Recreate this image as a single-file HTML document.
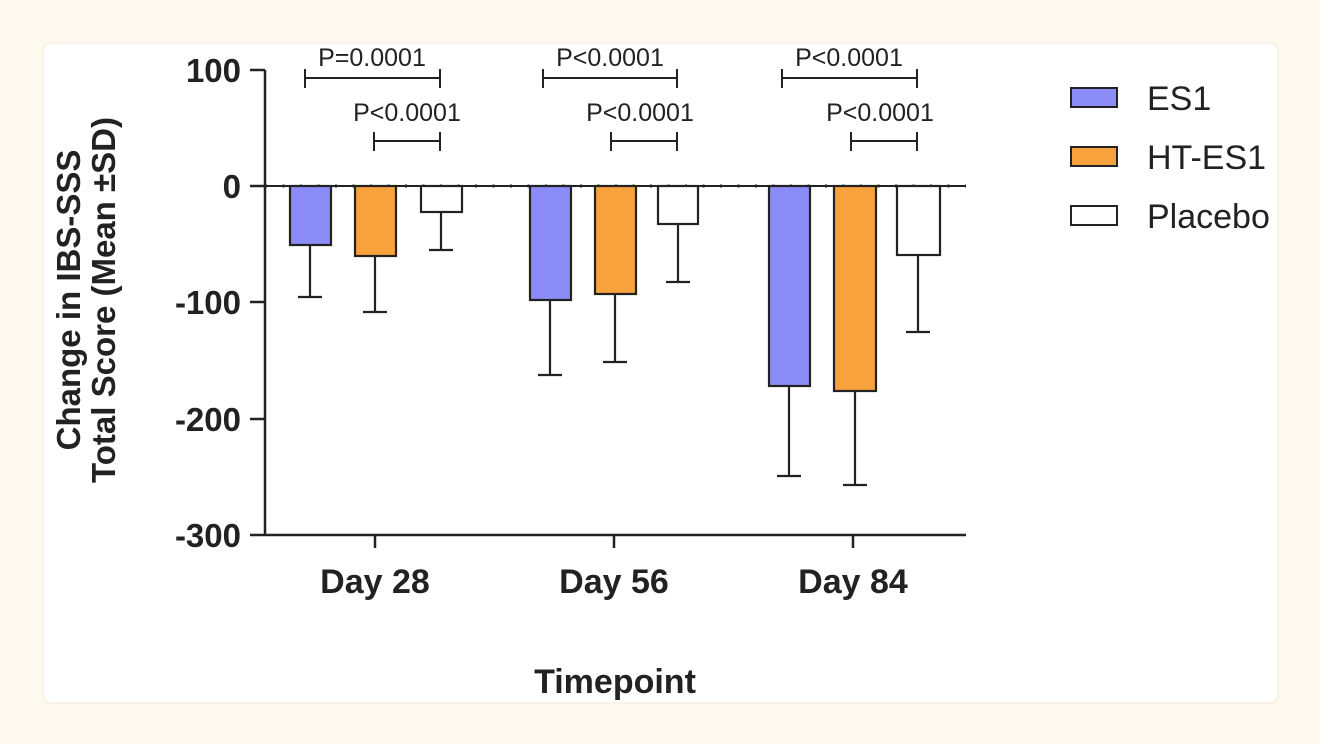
<!DOCTYPE html>
<html><head><meta charset="utf-8"><style>
html,body{margin:0;padding:0;background:#fdf9ee;}
svg{display:block;font-family:"Liberation Sans",Arial,sans-serif;}
</style></head><body>
<svg width="1320" height="744" viewBox="0 0 1320 744">
<rect x="0" y="0" width="1320" height="744" fill="#fdf9ee"/>
<rect x="43" y="43" width="1235" height="660" rx="8" fill="#fff" stroke="#f3eadb"/>
<g stroke="#222" stroke-width="2.5" fill="none">
<line x1="265" y1="70" x2="265" y2="535"/>
<line x1="250" y1="535" x2="966" y2="535"/>
<line x1="250" y1="70" x2="265" y2="70"/>
<line x1="250" y1="186" x2="265" y2="186"/>
<line x1="250" y1="302" x2="265" y2="302"/>
<line x1="250" y1="419" x2="265" y2="419"/>
<line x1="375" y1="535" x2="375" y2="548"/>
<line x1="614" y1="535" x2="614" y2="548"/>
<line x1="853" y1="535" x2="853" y2="548"/>
</g>
<line x1="265" y1="186" x2="966" y2="186" stroke="#222" stroke-width="2"/>
<line x1="265" y1="186" x2="966" y2="186" stroke="#222" stroke-width="3" stroke-dasharray="2 15.5"/>
<g stroke="#222" stroke-width="2.2">
<line x1="310" y1="245" x2="310" y2="297"/><line x1="298" y1="297" x2="322" y2="297"/>
<line x1="375" y1="256" x2="375" y2="312"/><line x1="363" y1="312" x2="387" y2="312"/>
<line x1="441" y1="212" x2="441" y2="250"/><line x1="429" y1="250" x2="453" y2="250"/>
<line x1="550" y1="300" x2="550" y2="375"/><line x1="538" y1="375" x2="562" y2="375"/>
<line x1="615" y1="294" x2="615" y2="362"/><line x1="603" y1="362" x2="627" y2="362"/>
<line x1="678" y1="224" x2="678" y2="282"/><line x1="666" y1="282" x2="690" y2="282"/>
<line x1="789" y1="386" x2="789" y2="476"/><line x1="777" y1="476" x2="801" y2="476"/>
<line x1="855" y1="391" x2="855" y2="485"/><line x1="843" y1="485" x2="867" y2="485"/>
<line x1="918" y1="255" x2="918" y2="332"/><line x1="906" y1="332" x2="930" y2="332"/>
</g>
<g stroke="#222" stroke-width="2.2">
<rect x="290" y="186" width="41" height="59" fill="#8c8cf8"/>
<rect x="355" y="186" width="41" height="70" fill="#f8a23e"/>
<rect x="421" y="186" width="41" height="26" fill="#fff"/>
<rect x="530" y="186" width="41" height="114" fill="#8c8cf8"/>
<rect x="595" y="186" width="41" height="108" fill="#f8a23e"/>
<rect x="658" y="186" width="40" height="38" fill="#fff"/>
<rect x="769" y="186" width="41" height="200" fill="#8c8cf8"/>
<rect x="834" y="186" width="42" height="205" fill="#f8a23e"/>
<rect x="897" y="186" width="43" height="69" fill="#fff"/>
</g>
<g stroke="#222" stroke-width="2" fill="none">
<path d="M305 69V88M305 78H440M440 69V88"/>
<path d="M374 132V151M374 141H440M440 132V151"/>
<path d="M543 69V88M543 78H677M677 69V88"/>
<path d="M611 132V151M611 141H677M677 132V151"/>
<path d="M782 69V88M782 78H917M917 69V88"/>
<path d="M851 132V151M851 141H917M917 132V151"/>
</g>
<g font-size="25" fill="#222" text-anchor="middle">
<text x="372" y="66">P=0.0001</text>
<text x="407" y="121">P&lt;0.0001</text>
<text x="610" y="66">P&lt;0.0001</text>
<text x="640" y="121">P&lt;0.0001</text>
<text x="849" y="66">P&lt;0.0001</text>
<text x="880" y="121">P&lt;0.0001</text>
</g>
<g font-size="33" font-weight="bold" fill="#222" text-anchor="end">
<text x="241" y="82">100</text>
<text x="241" y="198">0</text>
<text x="241" y="314">-100</text>
<text x="241" y="431">-200</text>
<text x="241" y="547">-300</text>
</g>
<g font-size="34" font-weight="bold" fill="#222" text-anchor="middle">
<text x="375" y="593">Day 28</text>
<text x="614" y="593">Day 56</text>
<text x="853" y="593">Day 84</text>
<text x="615" y="693" font-size="34">Timepoint</text>
<text transform="translate(80,300) rotate(-90)" font-size="33">Change in IBS-SSS</text>
<text transform="translate(115,300) rotate(-90)" font-size="33">Total Score (Mean ±SD)</text>
</g>
<g stroke="#222" stroke-width="2">
<rect x="1071" y="88" width="46" height="19" fill="#8c8cf8"/>
<rect x="1071" y="147" width="46" height="19" fill="#f8a23e"/>
<rect x="1071" y="206" width="46" height="19" fill="#fff"/>
</g>
<g font-size="34" fill="#222">
<text x="1147" y="110">ES1</text>
<text x="1147" y="169">HT-ES1</text>
<text x="1147" y="228">Placebo</text>
</g>
</svg>
</body></html>
